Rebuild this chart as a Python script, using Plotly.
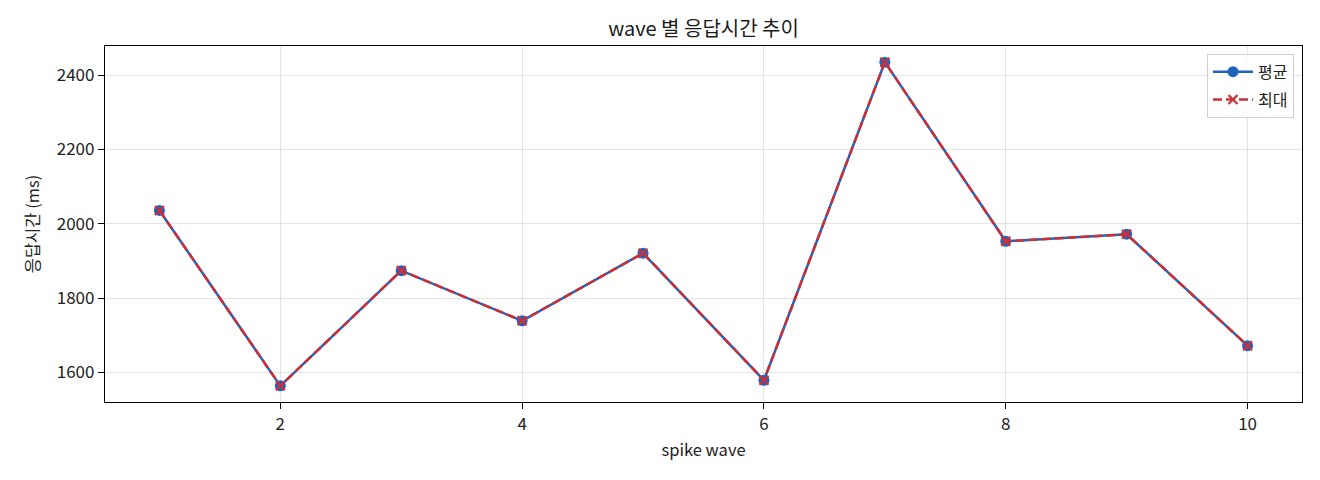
import plotly.graph_objects as go

waves = [1, 2, 3, 4, 5, 6, 7, 8, 9, 10]
avg_ms = [2036, 1564, 1874, 1739, 1921, 1579, 2435, 1953, 1972, 1672]
max_ms = [2036, 1564, 1874, 1739, 1921, 1579, 2435, 1953, 1972, 1672]
x_ticks = [2, 4, 6, 8, 10]
y_ticks = [1600, 1800, 2000, 2200, 2400]

FONT = "Noto Sans CJK KR"
BLUE = "#1f63c0"
RED = "#cc2f35"

fig = go.Figure()
fig.add_trace(go.Scatter(
    x=waves, y=avg_ms, name="평균", mode="lines+markers",
    line=dict(color=BLUE, width=2.5),
    marker=dict(symbol="circle", size=11, color=BLUE),
    legendgroup="a",
))
fig.add_trace(go.Scatter(
    x=waves, y=max_ms, name="최대", mode="lines+markers",
    line=dict(color=RED, width=2.5, dash="9px,4px"),
    marker=dict(symbol="x-thin", size=9, color=RED, line=dict(color=RED, width=2.2)),
    legendgroup="b",
))

axis_common = dict(
    showline=True, linecolor="black", linewidth=1.2, mirror=True,
    ticks="outside", ticklen=6, tickwidth=1.2, tickcolor="black",
    showgrid=True, gridcolor="rgba(0,0,0,0.1)", gridwidth=1,
    zeroline=False, tickfont=dict(family=FONT, size=17, color="#222"),
)

fig.update_layout(
    width=1304, height=464,
    paper_bgcolor="white", plot_bgcolor="white",
    margin=dict(l=97, r=10, t=38, b=70),
    title=dict(text="wave 별 응답시간 추이", x=0.5, xanchor="center", y=0.955, yanchor="middle",
               xref="paper", font=dict(family=FONT, size=20, color="#1a1a1a")),
    xaxis=dict(range=[0.55, 10.45], tickvals=x_ticks,
               title=dict(text="spike wave", font=dict(family=FONT, size=16.5, color="#222"), standoff=10),
               **axis_common),
    yaxis=dict(range=[1520.5, 2478.5], tickvals=y_ticks,
               title=dict(text="응답시간 (ms)", font=dict(family=FONT, size=16.5, color="#222"), standoff=12),
               **axis_common),
    legend=dict(x=0.9933, y=0.978, xanchor="right", yanchor="top",
                bgcolor="rgba(255,255,255,0.8)", bordercolor="#d0d0d0", borderwidth=1,
                font=dict(family=FONT, size=16, color="#222"), itemwidth=40,
                tracegroupgap=4),
    showlegend=True,
)

fig.write_html("out.html")
